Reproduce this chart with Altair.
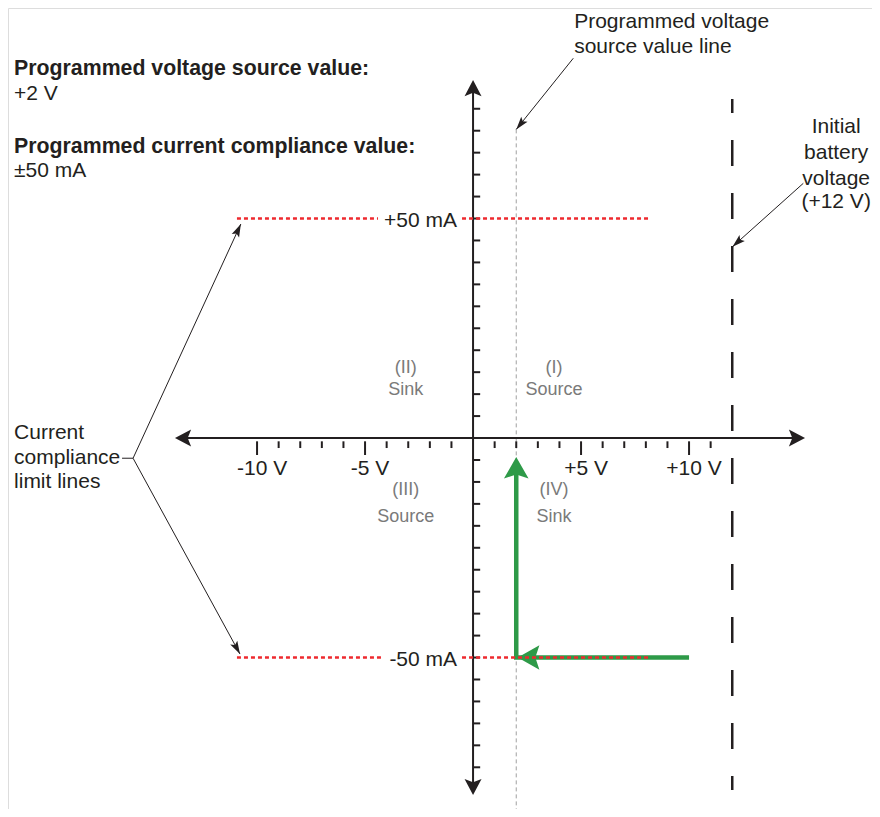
import math
import altair as alt
import pandas as pd

# ---------------- data (volts on x, milliamps on y) ----------------
V_DOMAIN = [-21.53, 18.47]
MA_DOMAIN = [-84.5, 97.95]
W, H = 864, 801

VOLT_TICKS = [-10, -9, -8, -7, -6, -5, -4, -3, -2, -1, 1, 2, 3, 4, 5, 6, 7, 8, 9, 10, 11]
MAJOR_VOLTS = [-10, -5, 5, 10]
VOLT_LABELS = ["-10 V", "-5 V", "+5 V", "+10 V"]
CURRENT_TICKS = [-75, -70, -65, -60, -55, -50, -45, -40, -35, -30, -25, -20, -15, -10, -5,
                 5, 10, 15, 20, 25, 30, 35, 40, 45, 50, 55, 60, 65, 70, 75]

X_AXIS_ENDS = [-13.8, 15.37]
Y_AXIS_ENDS = [-81.32, 81.55]

SOURCE_V = 2
SOURCE_LINE_MA = [70.3, -84.5]
BATTERY_V = 12
BATTERY_LINE_MA = [77.2, -80.2]
COMPLIANCE_MA = [50, -50]
LIMIT_SEG_X = [[-10.93, -4.40, -0.51, 8.2], [-10.93, -4.17, -0.51, 8.2]]
LIMIT_LABELS = ["+50 mA", "-50 mA"]
LIMIT_LABEL_X = [-0.74, -0.74]
LIMIT_LABEL_Y = [48.06, -51.94]

# green load path: starts at battery side, sweeps to the source value
PATH_V = [10.0, 2.0, 2.0]
PATH_MA = [-50.0, -50.0, -8.0]
PATH_TIPS_V = [2.07, 2.0]
PATH_TIPS_MA = [-50.0, -4.3]

# thin callout arrows: start -> tip
CALLOUT_V0 = [4.64, 15.29, -15.74, -15.74]
CALLOUT_MA0 = [86.5, 58.02, -4.6, -4.6]
CALLOUT_V1 = [2.0, 12.01, -10.75, -10.79]
CALLOUT_MA1 = [70.3, 43.57, 48.75, -49.2]
BRACKET_DASH_V = [-16.25, -15.74]
BRACKET_DASH_MA = -4.6

BOLD_TEXT = ["Programmed voltage source value:", "Programmed current compliance value:"]
BOLD_MA = [82.7, 64.9]
PLAIN_LEFT_TEXT = ["+2 V", "±50 mA", "Current", "compliance", "limit lines"]
PLAIN_LEFT_MA = [77.1, 59.5, -0.23, -5.81, -11.39]
LEFT_V = -21.25

TOP_TEXT = ["Programmed voltage", "source value line"]
TOP_V = 4.68
TOP_MA = [93.3, 87.6]

BATT_TEXT = ["Initial", "battery", "voltage", "(+12 V)"]
BATT_V = 16.81
BATT_MA = [69.55, 63.6, 57.7, 52.39]

QUAD_TEXT = ["(II)", "Sink", "(I)", "Source", "(III)", "Source", "(IV)", "Sink"]
QUAD_V = [-3.12, -3.12, 3.75, 3.75, -3.12, -3.12, 3.75, 3.75]
QUAD_MA = [14.7, 9.79, 14.7, 9.79, -12.9, -19.2, -12.9, -19.2]
VOLT_LABEL_MA = -8.43

# ---------------- styling ----------------
INK = "#231f20"
GREEN = "#2e9a48"
RED = "#ee2a2f"
QGRAY = "#7a7a7a"
DGRAY = "#a0a0a0"
FONT = "Liberation Sans"

PX_V = W / (V_DOMAIN[1] - V_DOMAIN[0])
PX_MA = H / (MA_DOMAIN[1] - MA_DOMAIN[0])

XS = alt.Scale(domain=V_DOMAIN, nice=False, zero=False)
YS = alt.Scale(domain=MA_DOMAIN, nice=False, zero=False)


def X(f):
    return alt.X(f, type="quantitative", scale=XS, axis=None)


def Y(f):
    return alt.Y(f, type="quantitative", scale=YS, axis=None)


def heading(v0, m0, v1, m1):
    dx = (v1 - v0) * PX_V
    dy = -(m1 - m0) * PX_MA
    return math.degrees(math.atan2(dx, -dy)) % 360


AXIS_HEAD = "M0,0 L1,1.9 L0,1.5 L-1,1.9 Z"
GREEN_HEAD = "M0,0 L1,1.76 L0,1.43 L-1,1.76 Z"
THIN_HEAD = "M0,0 L0.62,2 L0,1.6 L-0.62,2 Z"

layers = []

# dashed programmed-voltage line
src = pd.DataFrame({"v": [SOURCE_V], "y0": [SOURCE_LINE_MA[0]], "y1": [SOURCE_LINE_MA[1]]})
layers.append(alt.Chart(src).mark_rule(color=DGRAY, strokeWidth=1, strokeDash=[4, 3]).encode(
    x=X("v"), y=Y("y0"), y2="y1"))

# battery voltage line
bat = pd.DataFrame({"v": [BATTERY_V], "y0": [BATTERY_LINE_MA[0]], "y1": [BATTERY_LINE_MA[1]]})
layers.append(alt.Chart(bat).mark_rule(color=INK, strokeWidth=2.5, strokeDash=[26, 27],
                                       strokeDashOffset=12).encode(
    x=X("v"), y=Y("y0"), y2="y1"))

# axes lines
axl = pd.DataFrame({"x0": [X_AXIS_ENDS[0] + 0.3, 0], "x1": [X_AXIS_ENDS[1] - 0.3, 0],
                    "y0": [0, Y_AXIS_ENDS[0] + 1.5], "y1": [0, Y_AXIS_ENDS[1] - 1.5]})
layers.append(alt.Chart(axl).mark_rule(color=INK, strokeWidth=2).encode(
    x=X("x0"), x2="x1", y=Y("y0"), y2="y1"))

# x ticks
xt = pd.DataFrame({"v": VOLT_TICKS})
xt["y0"] = -0.75
xt["y1"] = [-3.87 if v in MAJOR_VOLTS else -2.28 for v in VOLT_TICKS]
layers.append(alt.Chart(xt).mark_rule(color=INK, strokeWidth=2).encode(
    x=X("v"), y=Y("y0"), y2="y1"))

# y ticks
yt = pd.DataFrame({"m": CURRENT_TICKS})
yt["x0"] = 0.0
yt["x1"] = 0.33
layers.append(alt.Chart(yt).mark_rule(color=INK, strokeWidth=2).encode(
    x=X("x0"), x2="x1", y=Y("m")))

# green path
gp = pd.DataFrame({"v": PATH_V, "m": PATH_MA, "o": list(range(len(PATH_V)))})
layers.append(alt.Chart(gp).mark_line(color=GREEN, strokeWidth=4.5, strokeCap="butt",
                                      strokeJoin="miter").encode(
    x=X("v"), y=Y("m"), order="o:Q"))
gh = pd.DataFrame({"v": PATH_TIPS_V, "m": PATH_TIPS_MA, "a": [270, 0]})
layers.append(alt.Chart(gh).mark_point(shape=GREEN_HEAD, filled=True, fill=GREEN, opacity=1,
                                       strokeWidth=0, size=605).encode(
    x=X("v"), y=Y("m"), angle=alt.Angle("a:Q", scale=None)))

# red compliance limit lines
rows = []
for m, segs in zip(COMPLIANCE_MA, LIMIT_SEG_X):
    rows.append({"x0": segs[0], "x1": segs[1], "m": m})
    rows.append({"x0": segs[2], "x1": segs[3], "m": m})
rl = pd.DataFrame(rows)
layers.append(alt.Chart(rl).mark_rule(color=RED, strokeWidth=2.6, strokeDash=[4, 3]).encode(
    x=X("x0"), x2="x1", y=Y("m")))

# axis arrow heads
ah = pd.DataFrame({"v": [X_AXIS_ENDS[0], X_AXIS_ENDS[1], 0, 0],
                   "m": [0, 0, Y_AXIS_ENDS[1], Y_AXIS_ENDS[0]],
                   "a": [270, 90, 0, 180]})
layers.append(alt.Chart(ah).mark_point(shape=AXIS_HEAD, filled=True, fill=INK, opacity=1,
                                       strokeWidth=0, size=289).encode(
    x=X("v"), y=Y("m"), angle=alt.Angle("a:Q", scale=None)))

# callout lines
cl = pd.DataFrame({"x0": CALLOUT_V0 + [BRACKET_DASH_V[0]], "x1": CALLOUT_V1 + [BRACKET_DASH_V[1]],
                   "y0": CALLOUT_MA0 + [BRACKET_DASH_MA], "y1": CALLOUT_MA1 + [BRACKET_DASH_MA]})
layers.append(alt.Chart(cl).mark_rule(color=INK, strokeWidth=1).encode(
    x=X("x0"), x2="x1", y=Y("y0"), y2="y1"))
ch = pd.DataFrame({"v": CALLOUT_V1, "m": CALLOUT_MA1,
                   "a": [heading(a, b, c, d) for a, b, c, d in
                         zip(CALLOUT_V0, CALLOUT_MA0, CALLOUT_V1, CALLOUT_MA1)]})
layers.append(alt.Chart(ch).mark_point(shape=THIN_HEAD, filled=True, fill=INK, opacity=1,
                                       strokeWidth=0, size=169).encode(
    x=X("v"), y=Y("m"), angle=alt.Angle("a:Q", scale=None)))

# ---------------- texts ----------------
def text_layer(df, **kw):
    base = dict(font=FONT, baseline="alphabetic")
    base.update(kw)
    return alt.Chart(df).mark_text(**base).encode(x=X("v"), y=Y("m"), text="t:N")


layers.append(text_layer(pd.DataFrame({"t": BOLD_TEXT, "v": LEFT_V, "m": BOLD_MA}),
                         align="left", fontSize=21.3, fontWeight="bold", color=INK))
layers.append(text_layer(pd.DataFrame({"t": PLAIN_LEFT_TEXT, "v": LEFT_V, "m": PLAIN_LEFT_MA}),
                         align="left", fontSize=21, color=INK))
layers.append(text_layer(pd.DataFrame({"t": TOP_TEXT, "v": TOP_V, "m": TOP_MA}),
                         align="left", fontSize=21, color=INK))
layers.append(text_layer(pd.DataFrame({"t": BATT_TEXT, "v": BATT_V, "m": BATT_MA}),
                         align="center", fontSize=21, color=INK))
layers.append(text_layer(pd.DataFrame({"t": QUAD_TEXT, "v": QUAD_V, "m": QUAD_MA}),
                         align="center", fontSize=18, color=QGRAY))
layers.append(text_layer(pd.DataFrame({"t": VOLT_LABELS, "v": MAJOR_VOLTS, "m": VOLT_LABEL_MA}),
                         align="center", dx=5, fontSize=21, color=INK))
layers.append(text_layer(pd.DataFrame({"t": LIMIT_LABELS, "v": LIMIT_LABEL_X, "m": LIMIT_LABEL_Y}),
                         align="right", fontSize=21, color=INK))

chart = alt.layer(*layers).properties(
    width=W, height=H, padding=0, autosize=alt.AutoSizeParams(type="none")
).configure_view(stroke="transparent", strokeWidth=0).configure(background="transparent")

chart.save("out.html", embed_options={"renderer": "svg", "actions": False})
